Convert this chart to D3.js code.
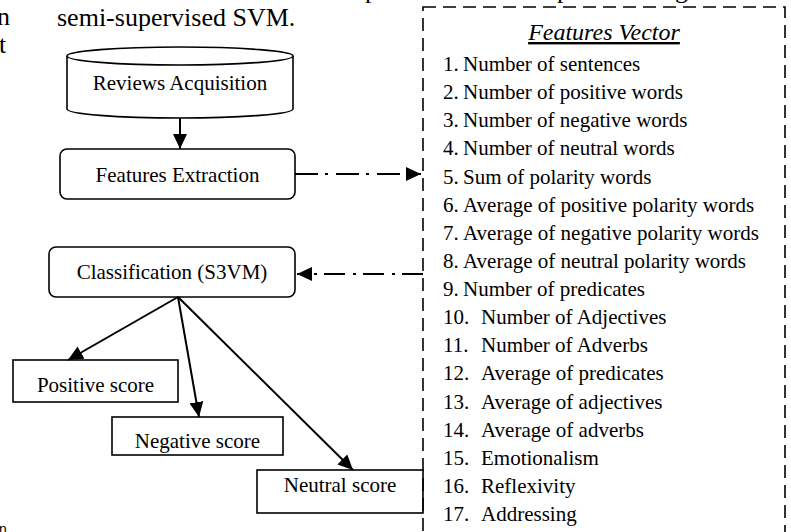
<!DOCTYPE html>
<html>
<head>
<meta charset="utf-8">
<script src="https://cdn.jsdelivr.net/npm/d3@7"></script>
<style>
  body { margin: 0; background: #fff; }
  svg { display: block; }
  text { font-family: "Liberation Serif", "Times New Roman", serif; fill: #000; }
</style>
</head>
<body>
<div id="chart"></div>
<script>
// labels of the flow
var topText = "semi-supervised SVM.";
var sourceLabel = "Reviews Acquisition";
var extractLabel = "Features Extraction";
var classifyLabel = "Classification (S3VM)";
var scoreLabels = ["Positive score", "Negative score", "Neutral score"];
var vectorTitle = "Features Vector";
var features = [
  "Number of sentences",
  "Number of positive words",
  "Number of negative words",
  "Number of neutral words",
  "Sum of polarity words",
  "Average of positive polarity words",
  "Average of negative polarity words",
  "Average of neutral polarity words",
  "Number of predicates",
  "Number of Adjectives",
  "Number of Adverbs",
  "Average of predicates",
  "Average of adjectives",
  "Average of adverbs",
  "Emotionalism",
  "Reflexivity",
  "Addressing"
];

var svgWidth = 791;
var svgHeight = 532;

var svg = d3.select("#chart")
  .append("svg")
  .attr("width", svgWidth)
  .attr("height", svgHeight);

var defs = svg.append("defs");
defs.append("marker")
  .attr("id", "head")
  .attr("markerUnits", "userSpaceOnUse")
  .attr("markerWidth", 16)
  .attr("markerHeight", 14)
  .attr("refX", 15)
  .attr("refY", 7)
  .attr("orient", "auto")
  .append("path")
  .attr("d", "M0,0 L15,7 L0,14 Z")
  .attr("fill", "#000");

// bits of the page text around the figure (cut by the page edge, as in the scan)
svg.append("text").attr("x", 57).attr("y", 26).attr("font-size", 26).text(topText);
svg.append("text").attr("x", -3).attr("y", 25).attr("font-size", 26).text("n");
svg.append("text").attr("x", -1).attr("y", 53).attr("font-size", 26).text("t");
[[365, "p"], [557, "p"], [675, "g"]].forEach(function(d) {
  svg.append("text").attr("x", d[0]).attr("y", -2).attr("font-size", 26).text(d[1]);
});
svg.append("text").attr("x", -1).attr("y", 534).attr("font-size", 14)
  .style("font-family", "Liberation Sans, Arial, sans-serif").text("n");

// cylinder (data source)
var cyl = {x: 67, w: 226, top: 56, bottom: 109, ry: 9};
svg.append("path")
  .attr("d", `M${cyl.x},${cyl.top} L${cyl.x},${cyl.bottom}
    A${cyl.w / 2},${cyl.ry} 0 0 0 ${cyl.x + cyl.w},${cyl.bottom}
    L${cyl.x + cyl.w},${cyl.top}`)
  .attr("fill", "#fff").attr("stroke", "#000").attr("stroke-width", 1.6);
svg.append("ellipse")
  .attr("cx", cyl.x + cyl.w / 2).attr("cy", cyl.top)
  .attr("rx", cyl.w / 2).attr("ry", cyl.ry)
  .attr("fill", "#fff").attr("stroke", "#000").attr("stroke-width", 1.6);
svg.append("text").attr("x", 180).attr("y", 90).attr("font-size", 21)
  .attr("text-anchor", "middle").text(sourceLabel);

// process boxes
var boxes = [
  {label: extractLabel, x: 60, y: 149, w: 235, h: 50, base: 182, rx: 7},
  {label: classifyLabel, x: 49, y: 247, w: 246, h: 50, base: 279, rx: 7},
  {label: scoreLabels[0], x: 13, y: 360, w: 165, h: 42, base: 392, rx: 0},
  {label: scoreLabels[1], x: 112, y: 417, w: 171, h: 38, base: 448, rx: 0},
  {label: scoreLabels[2], x: 257, y: 470, w: 166, h: 43, base: 492, rx: 0}
];

boxes.forEach(function(b, i) {
  var clipId = "clip" + i;
  defs.append("clipPath").attr("id", clipId)
    .append("rect").attr("x", b.x).attr("y", b.y).attr("width", b.w).attr("height", b.h);
  svg.append("rect")
    .attr("x", b.x).attr("y", b.y).attr("width", b.w).attr("height", b.h)
    .attr("rx", b.rx).attr("fill", "#fff").attr("stroke", "#000").attr("stroke-width", 1.6);
  svg.append("text")
    .attr("x", b.x + b.w / 2).attr("y", b.base)
    .attr("font-size", 21).attr("text-anchor", "middle")
    .attr("clip-path", `url(#${clipId})`)
    .text(b.label);
});

// solid arrows
var arrows = [
  [[180, 118], [180, 149]],
  [[178, 297], [68, 360]],
  [[178, 297], [199, 417]],
  [[178, 297], [353, 470]]
];
svg.selectAll(".arrow")
  .data(arrows)
  .enter()
  .append("path")
  .attr("class", "arrow")
  .attr("d", d => d3.line()(d))
  .attr("stroke", "#000").attr("stroke-width", 2)
  .attr("fill", "none")
  .attr("marker-end", "url(#head)");

// dash-dot arrows to and from the vector box
svg.append("path")
  .attr("d", d3.line()([[295, 174], [421, 174]]))
  .attr("stroke", "#000").attr("stroke-width", 2)
  .attr("stroke-dasharray", "23,7,3,8")
  .attr("marker-end", "url(#head)");
svg.append("path")
  .attr("d", d3.line()([[423, 274], [297, 274]]))
  .attr("stroke", "#000").attr("stroke-width", 2)
  .attr("stroke-dasharray", "21,7,3,8")
  .attr("marker-end", "url(#head)");

// dashed features vector frame
svg.append("rect")
  .attr("x", 423).attr("y", 7).attr("width", 362).attr("height", 560)
  .attr("fill", "none").attr("stroke", "#000").attr("stroke-width", 1.6)
  .attr("stroke-dasharray", "13,7");

svg.append("text")
  .attr("x", 604).attr("y", 40)
  .attr("font-size", 24).attr("font-style", "italic")
  .attr("text-anchor", "middle")
  .attr("text-decoration", "underline")
  .text(vectorTitle);

var yItem = d3.scaleLinear().domain([1, features.length]).range([71, 521]);

var items = svg.selectAll(".item")
  .data(features)
  .enter()
  .append("g")
  .attr("class", "item")
  .attr("transform", (d, i) => `translate(443, ${yItem(i + 1)})`);

items.append("text")
  .attr("font-size", 21)
  .text((d, i) => (i + 1) + ".");
items.append("text")
  .attr("x", (d, i) => i < 9 ? 20 : 38)
  .attr("font-size", 21)
  .text(d => d);
</script>
</body>
</html>
